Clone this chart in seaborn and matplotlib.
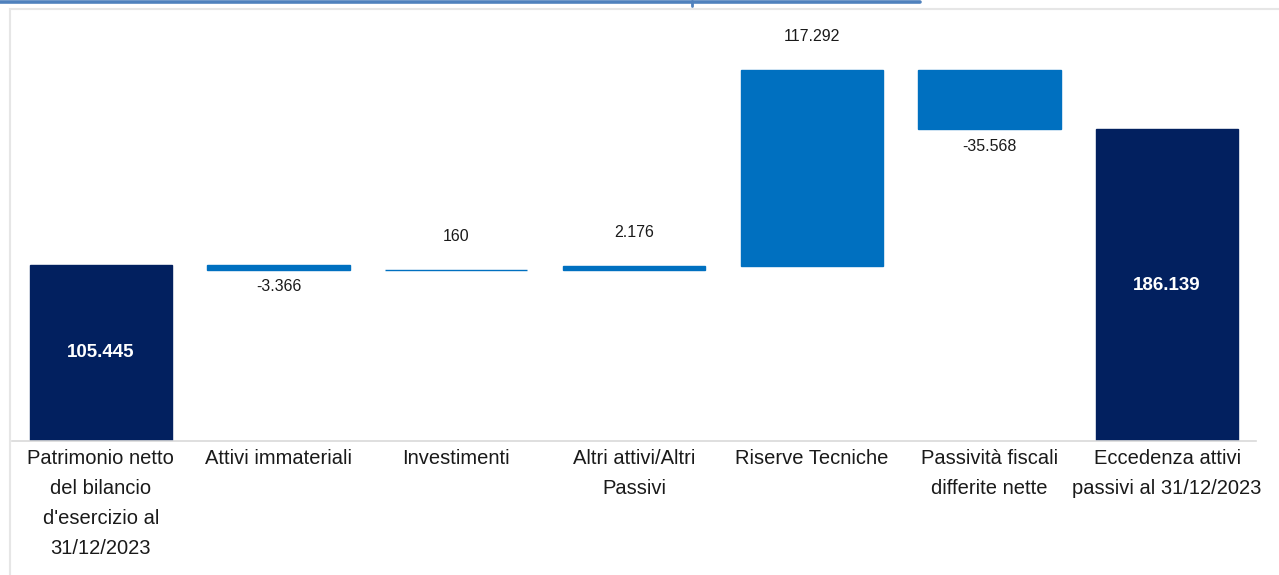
import matplotlib
matplotlib.use("Agg")
import matplotlib.pyplot as plt
from matplotlib.lines import Line2D
from matplotlib.patches import Rectangle
import seaborn as sns
import numpy as np

# Bridge from statutory equity to Solvency II excess of assets over liabilities
categories = [
    "Patrimonio netto\ndel bilancio\nd'esercizio al\n31/12/2023",
    "Attivi immateriali",
    "Investimenti",
    "Altri attivi/Altri\nPassivi",
    "Riserve Tecniche",
    "Passività fiscali\ndifferite nette",
    "Eccedenza attivi\npassivi al 31/12/2023",
]
values = [105445, -3366, 160, 2176, 117292, -35568, 186139]
is_total = [True, False, False, False, False, False, True]
value_labels = ["105.445", "-3.366", "160", "2.176", "117.292", "-35.568", "186.139"]

NAVY = "#02205F"
BLUE = "#0070C0"

# Floating bar geometry for the waterfall
bottoms, heights = [], []
running = 0
for v, tot in zip(values, is_total):
    if tot:
        bottoms.append(0)
        heights.append(v)
        running = v
    else:
        new = running + v
        bottoms.append(min(running, new))
        heights.append(abs(v))
        running = new
colors = [NAVY if t else BLUE for t in is_total]

sns.set_theme(style="white")
plt.rcParams["font.family"] = ["Liberation Sans", "DejaVu Sans"]

W, H = 1279, 575
fig = plt.figure(figsize=(W / 100, H / 100), dpi=100)
fig.patch.set_facecolor("white")

# Outer chart frame and the heading rule above it
fig.patches.append(Rectangle((10 / W, -0.01), 1.1, (H - 9) / H + 0.01,
                             transform=fig.transFigure, facecolor="none",
                             edgecolor="#E6E6E6", linewidth=1.5, zorder=0))
fig.lines.append(Line2D([0, 920 / W], [1 - 1.5 / H, 1 - 1.5 / H],
                        transform=fig.transFigure, color="#4F81BD", linewidth=2.6))
fig.lines.append(Line2D([692 / W, 692 / W], [1 - 1 / H, 1 - 6 / H],
                        transform=fig.transFigure, color="#4F81BD", linewidth=2))

ax = fig.add_axes([12 / W, (H - 441) / H, (1256 - 12) / W, (441 - 10) / H])
ax.set_facecolor("none")

sns.barplot(x=list(range(len(categories))), y=heights, bottom=bottoms,
            color=BLUE, width=0.8, ax=ax, saturation=1)
for patch, c in zip(ax.patches, colors):
    patch.set_facecolor(c)
    patch.set_edgecolor(c)
    patch.set_linewidth(1.0)

ax.set_ylim(0, 257500)
ax.set_xlim(-0.5, len(categories) - 0.5)
ax.set_yticks([])
ax.set_ylabel("")
ax.set_xticks(range(len(categories)))
ax.set_xticklabels(categories, fontsize=14.5, color="#1a1a1a", linespacing=1.72,
                   va="top")
ax.tick_params(axis="x", length=0, pad=6)

for side in ["top", "left", "right"]:
    ax.spines[side].set_visible(False)
ax.spines["bottom"].set_color("#D9D9D9")
ax.spines["bottom"].set_linewidth(1.2)

# Value labels
for i, (v, tot, lab) in enumerate(zip(values, is_total, value_labels)):
    b, h = bottoms[i], heights[i]
    if tot:
        ax.text(i, b + h / 2, lab, ha="center", va="center", color="white",
                fontsize=13.5, fontweight="bold")
    elif v >= 0:
        ax.annotate(lab, (i, b + h), xytext=(0, 24), textcoords="offset points",
                    ha="center", va="center", fontsize=11.5, color="#1a1a1a")
    else:
        ax.annotate(lab, (i, b), xytext=(0, -12), textcoords="offset points",
                    ha="center", va="center", fontsize=11.5, color="#1a1a1a")

fig.savefig("out.png", dpi=100)
